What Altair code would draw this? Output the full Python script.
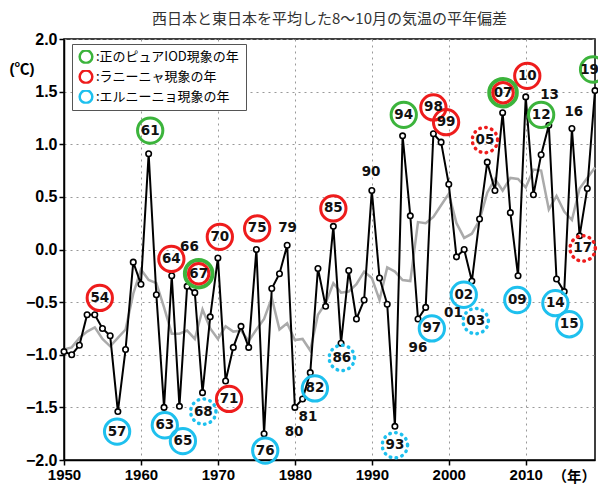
import altair as alt
import pandas as pd

# ---------------- data ----------------
years = list(range(1950, 2020))
anomaly = [-0.97, -1.00, -0.91, -0.62, -0.62, -0.75, -0.82, -1.54, -0.95, -0.12,
           -0.33, 0.91, -0.43, -1.50, -0.25, -1.49, -0.35, -0.41, -1.36, -0.64,
           -0.08, -1.25, -0.93, -0.73, -0.93, 0.00, -1.75, -0.37, -0.23, 0.04,
           -1.50, -1.42, -1.17, -0.18, -0.54, 0.22, -0.89, -0.20, -0.66, -0.48,
           0.56, -0.27, -0.52, -1.68, 1.08, 0.32, -0.66, -0.55, 1.10, 1.02,
           0.62, -0.07, 0.00, -0.30, 0.29, 0.83, 0.56, 1.30, 0.35, -0.25,
           1.45, 0.52, 0.90, 1.18, -0.28, -0.40, 1.15, 0.13, 0.58, 1.51]
smooth = [-0.95, -0.93, -0.84, -0.78, -0.74, -0.85, -0.92, -0.84, -0.76, -0.42,
          -0.19, -0.29, -0.32, -0.55, -0.80, -0.80, -0.77, -0.85, -0.57, -0.75,
          -0.85, -0.73, -0.78, -0.77, -0.87, -0.76, -0.66, -0.46, -0.76, -0.70,
          -0.86, -0.85, -0.96, -0.62, -0.51, -0.32, -0.41, -0.40, -0.33, -0.21,
          -0.27, -0.48, -0.17, -0.21, -0.29, -0.30, 0.26, 0.25, 0.31, 0.42,
          0.53, 0.25, 0.11, 0.15, 0.28, 0.54, 0.67, 0.56, 0.68, 0.67,
          0.59, 0.76, 0.75, 0.38, 0.51, 0.36, 0.28, 0.58, 0.68, 0.78]

# annotation labels (year labels), anchor position in data units, kind, style
ann_text = ["61", "54", "57", "63", "64", "65", "66", "67", "68", "70",
            "71", "75", "76", "79", "80", "81", "82", "85", "86", "90",
            "93", "94", "96", "97", "98", "99", "01", "02", "03", "05",
            "07", "09", "10", "12", "13", "14", "15", "16", "17", "19"]
ann_x = [1961.2, 1954.65, 1956.9, 1963.1, 1963.95, 1965.45, 1966.3, 1967.5, 1968.1, 1970.25,
         1971.45, 1975.1, 1976.15, 1979.05, 1979.9, 1981.7, 1982.6, 1985.0, 1986.1, 1989.9,
         1993.0, 1994.15, 1996.0, 1997.8, 1998.0, 1999.65, 2000.6, 2001.95, 2003.5, 2004.7,
         2007.05, 2008.9, 2010.2, 2012.0, 2013.1, 2013.85, 2015.65, 2016.25, 2017.4, 2018.75]
ann_y = [1.13, -0.46, -1.73, -1.67, -0.09, -1.82, 0.02, -0.23, -1.54, 0.12,
         -1.42, 0.20, -1.91, 0.20, -1.73, -1.59, -1.32, 0.39, -1.03, 0.74,
         -1.86, 1.28, -0.94, -0.75, 1.35, 1.21, -0.60, -0.43, -0.68, 1.04,
         1.49, -0.48, 1.65, 1.28, 1.47, -0.51, -0.71, 1.31, 0.01, 1.71]
ann_kind = ["iod", "lanina", "elnino", "elnino", "lanina", "elnino", "none", "both", "elnino", "lanina",
            "lanina", "lanina", "elnino", "none", "none", "none", "elnino", "lanina", "elnino", "none",
            "elnino", "iod", "none", "elnino", "lanina", "lanina", "none", "elnino", "elnino", "lanina",
            "both", "elnino", "lanina", "iod", "none", "elnino", "elnino", "none", "lanina", "iod"]
ann_dotted = ["68", "86", "93", "03", "05", "17"]
# text nudges (years) so that the label at the right edge stays readable
text_nudge = {"19": -0.45}

legend_labels = [":正のピュアIOD現象の年", ":ラニーニャ現象の年", ":エルニーニョ現象の年"]
legend_colors = ["#3cb43c", "#ee1c1c", "#1ec0ee"]

title_text = "西日本と東日本を平均した8～10月の気温の平年偏差"

# ---------------- tables ----------------
df_line = pd.DataFrame({"year": years, "anomaly": anomaly, "smooth": smooth})

kind_to_label = {"iod": legend_labels[0], "lanina": legend_labels[1], "elnino": legend_labels[2]}
ring_rows = []
for t, x, y, k in zip(ann_text, ann_x, ann_y, ann_kind):
    if k in kind_to_label:
        ring_rows.append({"x": x, "y": y, "cat": kind_to_label[k],
                          "style": "dotted" if t in ann_dotted else "solid"})
df_ring = pd.DataFrame(ring_rows)
df_solid = df_ring[df_ring["style"] == "solid"]
df_dot = df_ring[df_ring["style"] == "dotted"]
df_both = pd.DataFrame([{"x": x, "y": y} for x, y, k in zip(ann_x, ann_y, ann_kind) if k == "both"])
df_text = pd.DataFrame({"x": [x + text_nudge.get(t, 0) for t, x in zip(ann_text, ann_x)],
                        "y": ann_y, "t": ann_text})

# ---------------- scales / axes ----------------
xs = alt.Scale(domain=[1950, 2019], nice=False, zero=False)
ys = alt.Scale(domain=[-2, 2], nice=False, zero=False)

x_axis = alt.Axis(values=list(range(1950, 2011, 10)), format="d", title="（年）",
                  grid=True, gridDash=[2, 4], gridColor="#999999", gridWidth=1,
                  tickSize=5, tickColor="black", tickWidth=1.5, domainColor="black", domainWidth=1.5,
                  labelFont="Liberation Sans", labelFontSize=15, labelFontWeight="bold",
                  labelColor="black", labelPadding=2, labelFlush=False,
                  titleFont="Noto Sans CJK JP", titleFontSize=14.5, titleFontWeight="bold",
                  titleColor="black", titleX=488, titleY=17, titleAlign="left",
                  titleBaseline="middle")
y_axis = alt.Axis(values=[-2, -1.5, -1, -0.5, 0, 0.5, 1, 1.5, 2], format=".1f", title="(℃)",
                  grid=True, gridDash=[2, 4], gridColor="#999999", gridWidth=1,
                  tickSize=5, tickColor="black", tickWidth=1.5, domainColor="black", domainWidth=1.5,
                  labelFont="Liberation Sans", labelFontSize=16, labelFontWeight="bold",
                  labelColor="black", labelPadding=2, labelFlush=False,
                  titleFont="Liberation Sans, Noto Sans CJK JP", titleFontSize=15,
                  titleFontWeight="bold", titleColor="black", titleAngle=0,
                  titleX=-55, titleY=29, titleAlign="left", titleBaseline="middle")

X = alt.X("year:Q", scale=xs, axis=x_axis)

gray = alt.Chart(df_line).mark_line(color="#aaaaaa", strokeWidth=2.5).encode(
    x=X, y=alt.Y("smooth:Q", scale=ys, axis=y_axis))
black = alt.Chart(df_line).mark_line(color="black", strokeWidth=2).encode(
    x="year:Q", y="anomaly:Q")
pts = alt.Chart(df_line).mark_point(shape="circle", filled=True, fill="white", stroke="black",
                                    strokeWidth=1.6, size=30, opacity=1).encode(
    x="year:Q", y="anomaly:Q")

rings_solid = alt.Chart(df_solid).mark_point(shape="circle", filled=False, size=640,
                                             strokeWidth=3, opacity=1).encode(
    x="x:Q", y="y:Q",
    color=alt.Color("cat:N", scale=alt.Scale(domain=legend_labels, range=legend_colors),
                    legend=alt.Legend(title=None, orient="none", legendX=8, legendY=5,
                                      direction="vertical",
                                      symbolType="circle", symbolSize=160,
                                      symbolStrokeWidth=2.5, symbolFillColor="transparent",
                                      labelFont="Noto Sans CJK JP", labelFontSize=13,
                                      labelColor="black", labelOffset=2, rowPadding=6,
                                      clipHeight=13.5, labelLimit=300,
                                      padding=6, strokeColor="#555555", fillColor="white",
                                      cornerRadius=0)))
rings_dot = alt.Chart(df_dot).mark_point(shape="circle", filled=False, size=640,
                                         strokeWidth=3.5, strokeDash=[0.5, 5.5],
                                         strokeCap="round", opacity=1).encode(
    x="x:Q", y="y:Q",
    stroke=alt.Stroke("cat:N", scale=alt.Scale(domain=legend_labels, range=legend_colors),
                      legend=None))
ring_outer = alt.Chart(df_both).mark_point(shape="circle", filled=False, size=760,
                                           strokeWidth=4, color=legend_colors[0], opacity=1).encode(
    x="x:Q", y="y:Q")
ring_inner = alt.Chart(df_both).mark_point(shape="circle", filled=False, size=420,
                                           strokeWidth=3, color=legend_colors[1], opacity=1).encode(
    x="x:Q", y="y:Q")

labels = alt.Chart(df_text).mark_text(font="DejaVu Sans", fontSize=13.5, fontWeight="bold",
                                      color="#111111", align="center", baseline="middle").encode(
    x="x:Q", y="y:Q", text="t:N")

chart = alt.layer(gray, black, pts, rings_solid, rings_dot, ring_outer, ring_inner, labels).properties(
    width=531, height=421,
    title=alt.TitleParams(title_text, font="Noto Sans CJK JP", fontSize=15, fontWeight="normal",
                          color="#333333", anchor="middle", offset=4),
    padding={"left": 56, "top": 31, "right": 3, "bottom": 24},
    autosize=alt.AutoSizeParams(type="none"),
).resolve_scale(color="independent").configure_view(stroke="black", strokeWidth=1.5)

chart.save("out.html", embed_options={"renderer": "svg", "actions": False})
